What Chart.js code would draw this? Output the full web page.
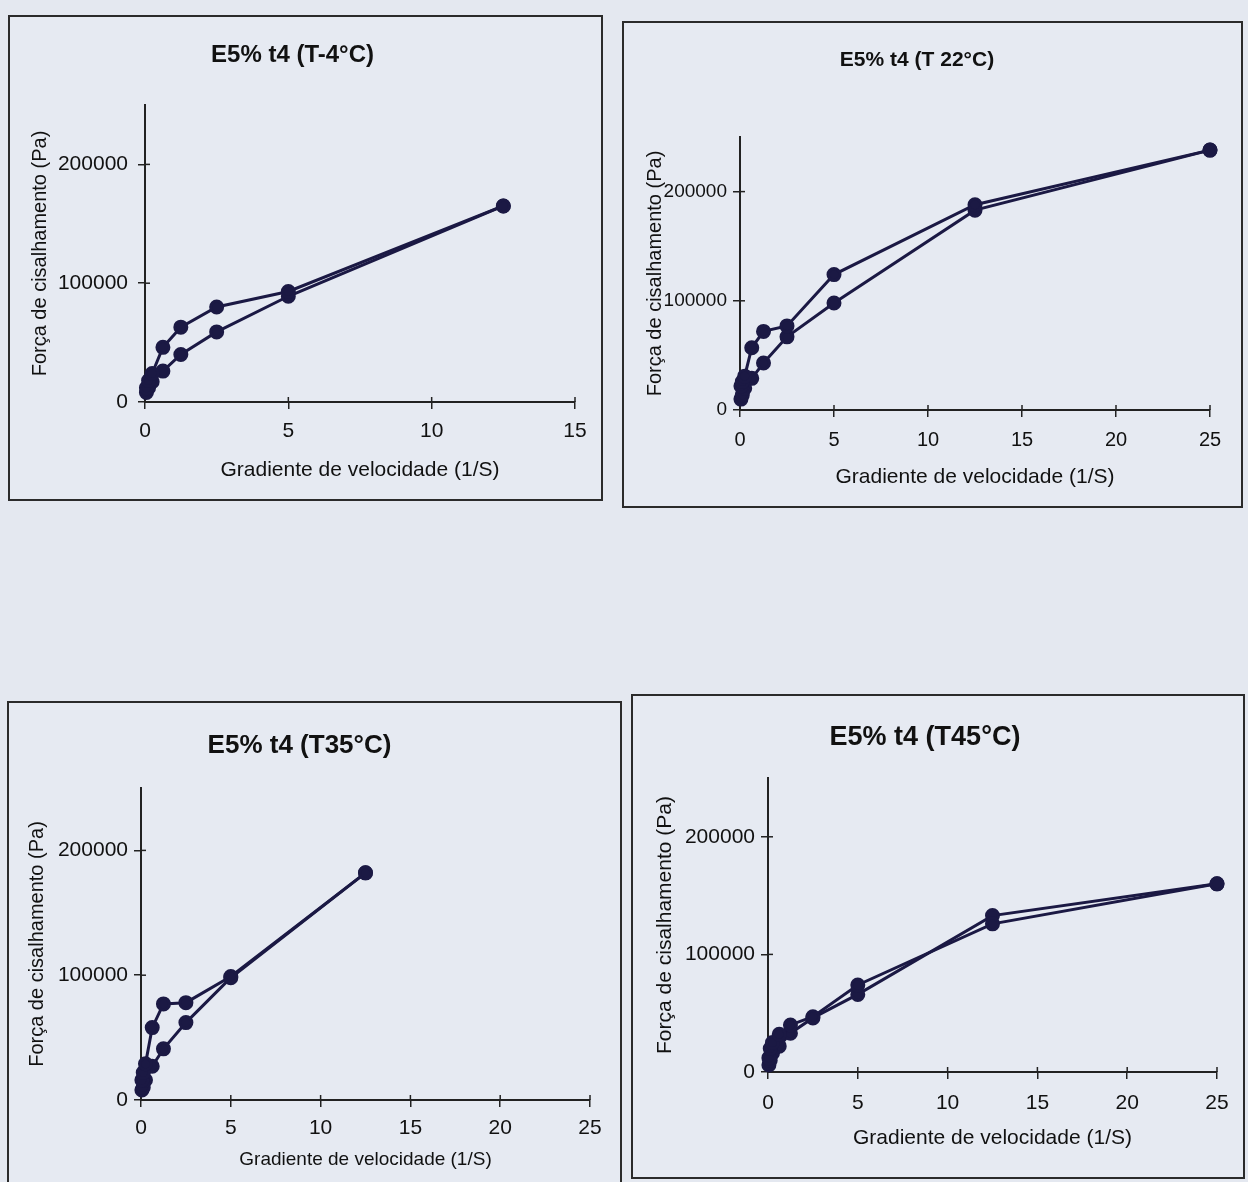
<!DOCTYPE html>
<html>
<head>
<meta charset="utf-8">
<script src="https://cdn.jsdelivr.net/npm/chart.js@4.4.1/dist/chart.umd.min.js"></script>
<style>
  body { margin: 0; width: 1248px; height: 1182px; background: #e4e8f0; overflow: hidden; position: relative; }
  .panel { position: absolute; border: 2px solid #2b2b2b; box-sizing: border-box; background: #e6eaf2; }
  .panel canvas { position: absolute; left: 0; top: 0; }
</style>
</head>
<body>
<div class="panel" style="left:8px;top:15px;width:595px;height:486px"><canvas id="c1" width="591" height="482"></canvas></div>
<div class="panel" style="left:622px;top:21px;width:621px;height:487px"><canvas id="c2" width="617" height="483"></canvas></div>
<div class="panel" style="left:7px;top:701px;width:615px;height:500px"><canvas id="c3" width="611" height="496"></canvas></div>
<div class="panel" style="left:631px;top:694px;width:614px;height:485px"><canvas id="c4" width="610" height="481"></canvas></div>
<script>
const FONT = "'Liberation Sans', Arial, sans-serif";
const COR = '#1b1944';

// gradiente de velocidade (1/S)
const gradiente = [0.05, 0.125, 0.25, 0.625, 1.25, 2.5, 5, 12.5, 25];

// forca de cisalhamento (Pa), ida e volta
const tMenos4_ida   = [12000, 18000, 24000, 46000, 63000, 80000, 93000, 165000];
const tMenos4_volta = [8000, 12000, 17000, 26000, 40000, 59000, 89000, 165000];

const t22_ida   = [22000, 26000, 31000, 57000, 72000, 77000, 124000, 188000, 238000];
const t22_volta = [10000, 14000, 20000, 29000, 43000, 67000, 98000, 183000, 238000];

const t35_ida   = [16000, 22000, 29000, 58000, 77000, 78000, 99000, 182000];
const t35_volta = [8000, 10000, 16000, 27000, 41000, 62000, 98000, 182000];

const t45_ida   = [12000, 20000, 25000, 32000, 40000, 47000, 74000, 126000, 160000];
const t45_volta = [6000, 10000, 16000, 22000, 33000, 46000, 66000, 133000, 160000];

// ticks
const yTicks = [0, 100000, 200000];
const xTicks15 = [0, 5, 10, 15];
const xTicks25 = [0, 5, 10, 15, 20, 25];

// marcas cruzando os eixos (estilo Excel)
const crossTicks = {
    id: 'crossTicks',
    beforeDatasetsDraw(chart) {
        const {ctx, scales: {x, y}} = chart;
        ctx.save();
        ctx.strokeStyle = '#222';
        ctx.lineWidth = 1.5;
        x.ticks.forEach(t => {
            const px = x.getPixelForValue(t.value);
            ctx.beginPath(); ctx.moveTo(px, x.top); ctx.lineTo(px, x.top - 5); ctx.stroke();
        });
        y.ticks.forEach(t => {
            const py = y.getPixelForValue(t.value);
            ctx.beginPath(); ctx.moveTo(y.right, py); ctx.lineTo(y.right + 5, py); ctx.stroke();
        });
        ctx.restore();
    }
};

function serie(valores) {
    return {
        data: valores.map((v, i) => ({x: gradiente[i], y: v})),
        borderColor: COR,
        backgroundColor: COR,
        borderWidth: 3,
        pointRadius: 6,
        pointStyle: 'circle',
        tension: 0,
        clip: false
    };
}

function makeChart(p) {
    return new Chart(document.getElementById(p.canvas), {
        type: 'line',
        data: {datasets: [serie(p.ida), serie(p.volta)]},
        options: {
            responsive: false,
            animation: false,
            layout: {padding: {left: 0, right: p.padRight, top: 0, bottom: 0}},
            plugins: {
                legend: {display: false},
                tooltip: {enabled: false},
                title: {
                    display: true,
                    text: p.titulo,
                    color: '#111',
                    font: {family: FONT, size: p.titleSize, weight: 'bold', lineHeight: 1.2},
                    padding: {top: p.titleTop, bottom: p.titleBottom}
                }
            },
            scales: {
                x: {
                    type: 'linear',
                    min: 0,
                    max: p.xTicks[p.xTicks.length - 1],
                    afterBuildTicks: s => { s.ticks = p.xTicks.map(v => ({value: v})); },
                    afterFit: s => { s.height = p.xHeight; },
                    grid: {drawOnChartArea: false, tickLength: 7, color: '#222', lineWidth: 1.5},
                    border: {display: true, color: '#222', width: 2},
                    ticks: {color: '#111', padding: p.xTickPad, maxRotation: 0, font: {family: FONT, size: p.xTickSize}, callback: v => String(v)},
                    title: {
                        display: true,
                        text: 'Gradiente de velocidade (1/S)',
                        color: '#111',
                        font: {family: FONT, size: p.xTitleSize, lineHeight: 1.2},
                        padding: {top: 0, bottom: p.xTitleBottom}
                    }
                },
                y: {
                    min: 0,
                    max: 250000,
                    afterBuildTicks: s => { s.ticks = yTicks.map(v => ({value: v})); },
                    afterFit: s => { s.width = p.yWidth; },
                    grid: {drawOnChartArea: false, tickLength: 7, color: '#222', lineWidth: 1.5},
                    border: {display: true, color: '#222', width: 2},
                    ticks: {color: '#111', padding: p.yTickPad, font: {family: FONT, size: p.yTickSize}, callback: v => String(v)},
                    title: {
                        display: true,
                        text: 'Força de cisalhamento (Pa)',
                        color: '#111',
                        font: {family: FONT, size: p.yTitleSize, lineHeight: 1.2},
                        padding: {top: p.yTitleTop, bottom: 0}
                    }
                }
            }
        },
        plugins: [crossTicks]
    });
}

makeChart({
    canvas: 'c1', titulo: 'E5% t4 (T-4°C)', ida: tMenos4_ida, volta: tMenos4_volta, xTicks: xTicks15,
    titleSize: 24, titleTop: 23.6, titleBottom: 35.6, padRight: 26,
    xHeight: 97, xTickSize: 21, xTickPad: 10, xTitleSize: 21, xTitleBottom: 16.4,
    yWidth: 135, yTickSize: 21, yTickPad: 10, yTitleSize: 20, yTitleTop: 18
});
makeChart({
    canvas: 'c2', titulo: 'E5% t4 (T 22°C)', ida: t22_ida, volta: t22_volta, xTicks: xTicks25,
    titleSize: 21, titleTop: 24.4, titleBottom: 64.4, padRight: 31,
    xHeight: 96, xTickSize: 20, xTickPad: 11, xTitleSize: 21, xTitleBottom: 16.4,
    yWidth: 116, yTickSize: 19, yTickPad: 6, yTitleSize: 20, yTitleTop: 19
});
makeChart({
    canvas: 'c3', titulo: 'E5% t4 (T35°C)', ida: t35_ida, volta: t35_volta, xTicks: xTicks25,
    titleSize: 26, titleTop: 27.4, titleBottom: 26.4, padRight: 30,
    xHeight: 99, xTickSize: 21, xTickPad: 8.4, xTitleSize: 19, xTitleBottom: 27.6,
    yWidth: 132, yTickSize: 21, yTickPad: 6, yTitleSize: 20, yTitleTop: 16
});
makeChart({
    canvas: 'c4', titulo: 'E5% t4 (T45°C)', ida: t45_ida, volta: t45_volta, xTicks: xTicks25,
    titleSize: 27, titleTop: 25.8, titleBottom: 23.8, padRight: 26,
    xHeight: 105, xTickSize: 21, xTickPad: 11.4, xTitleSize: 21, xTitleBottom: 26.4,
    yWidth: 135, yTickSize: 21, yTickPad: 6, yTitleSize: 21, yTitleTop: 19.4
});
</script>
</body>
</html>
